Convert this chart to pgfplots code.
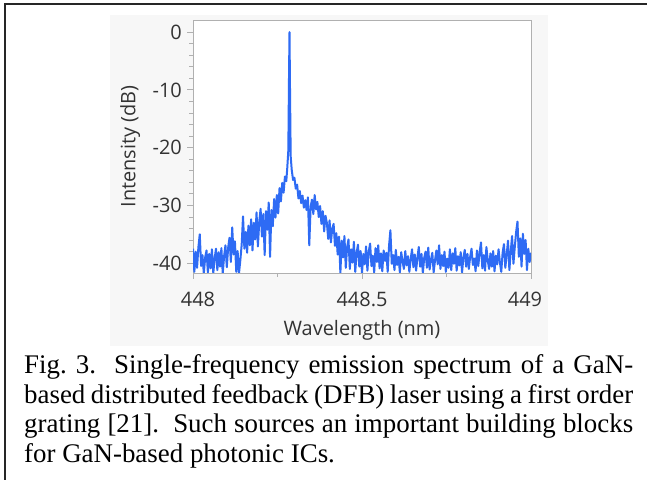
\documentclass[border=0pt]{standalone}
\usepackage{fontspec}
\setmainfont{Liberation Serif}
\newfontfamily\labelfont{Open Sans}
\usepackage{pgfplots}
\pgfplotsset{compat=1.18}
\definecolor{specblue}{HTML}{2E6BF4}
\definecolor{panelgray}{HTML}{F7F7F7}
\definecolor{labelgray}{HTML}{333333}
\definecolor{axisgray}{HTML}{B0B0B0}

\begin{document}
\begin{tikzpicture}[x=1bp,y=1bp]
\useasboundingbox (0,0) rectangle (647,480);
% frame and chart panel
\draw[line width=1.8bp, black!85] (5,0) -- (5,476) -- (647,476);
\fill[panelgray] (110,134) rectangle (548,465);

\begin{axis}[
  at={(193bp,207bp)}, anchor=south west,
  scale only axis,
  width=338bp, height=253bp,
  xmin=448, xmax=449, ymin=-41.7, ymax=2.1,
  xtick={448,448.5,449},
  xticklabels={\hspace*{10bp}448, 448.5, 449\hspace*{12bp}},
  minor xtick={448.25,448.75},
  ytick={-40,-30,-20,-10,0}, yticklabels={-40,-30,-20,-10,0},
  minor ytick={-38,-36,-34,-32,-28,-26,-24,-22,-18,-16,-14,-12,-8,-6,-4,-2},
  tick align=outside, tickpos=left,
  major tick length=6bp, minor tick length=4bp,
  axis line style={axisgray, line width=0.8bp},
  every tick/.style={axisgray, line width=0.8bp},
  every minor tick/.style={axisgray, line width=0.8bp},
  axis background/.style={fill=white},
  ticklabel style={font=\labelfont\fontsize{20}{24}\selectfont, text=labelgray},
  xticklabel style={anchor=north, inner sep=0pt, yshift=-13bp},
  yticklabel style={anchor=east, inner sep=0pt, xshift=-5bp},
  xlabel={Wavelength (nm)}, ylabel={Intensity (dB)},
  label style={font=\labelfont\fontsize{20}{24}\selectfont, text=labelgray},
  xlabel style={at={(axis description cs:0.5,-0.225)}, anchor=center},
  ylabel style={at={(axis description cs:-0.186,0.5)}, anchor=center},
]
\addplot[color=specblue, line width=2bp, line join=round] coordinates {
(448.000,-37.5) (448.004,-41.5) (448.008,-38.0) (448.012,-40.8) (448.016,-37.2)
(448.020,-35.0) (448.024,-40.5) (448.028,-38.6) (448.032,-41.8) (448.036,-39.0)
(448.040,-37.8) (448.044,-41.6) (448.048,-38.4) (448.052,-40.9) (448.056,-37.6)
(448.060,-41.7) (448.064,-39.2) (448.068,-37.5) (448.072,-41.2) (448.076,-38.1)
(448.080,-40.6) (448.084,-37.4) (448.088,-41.8) (448.092,-38.8) (448.096,-36.9)
(448.100,-40.7) (448.104,-37.3) (448.108,-35.6) (448.112,-39.8) (448.116,-33.8)
(448.120,-38.5) (448.124,-36.2) (448.128,-41.5) (448.132,-37.9) (448.136,-41.8)
(448.140,-39.5) (448.144,-36.8) (448.148,-31.9) (448.152,-37.5) (448.156,-34.6)
(448.160,-38.2) (448.164,-33.5) (448.168,-36.9) (448.172,-32.4) (448.176,-37.8)
(448.180,-33.0) (448.184,-35.9) (448.188,-31.2) (448.192,-37.1) (448.196,-32.8)
(448.200,-30.6) (448.204,-35.4) (448.208,-31.5) (448.212,-38.6) (448.216,-31.0)
(448.220,-34.2) (448.224,-29.5) (448.228,-38.9) (448.232,-30.8) (448.236,-33.6)
(448.240,-28.9) (448.244,-32.1) (448.248,-28.2) (448.252,-31.4) (448.256,-27.0)
(448.260,-29.3) (448.264,-26.1) (448.268,-27.8) (448.272,-25.0) (448.276,-25.8)
(448.279,-23.4) (448.282,-20.5) (448.284,-8.0) (448.2855,0.0) (448.287,-10.0)
(448.289,-21.5) (448.292,-23.8) (448.296,-25.6) (448.300,-25.2) (448.304,-27.1)
(448.308,-26.4) (448.312,-28.8) (448.316,-27.5) (448.320,-29.6) (448.324,-28.3)
(448.328,-30.4) (448.332,-29.1) (448.336,-30.8) (448.340,-28.6) (448.344,-36.9)
(448.348,-30.2) (448.352,-29.0) (448.356,-31.5) (448.360,-28.2) (448.364,-30.7)
(448.368,-29.4) (448.372,-32.0) (448.376,-30.1) (448.380,-33.2) (448.384,-31.0)
(448.388,-34.5) (448.392,-31.8) (448.396,-33.0) (448.400,-35.8) (448.404,-32.6)
(448.408,-36.4) (448.412,-34.0) (448.416,-33.2) (448.420,-37.0) (448.424,-34.8)
(448.428,-38.5) (448.432,-35.4) (448.436,-41.7) (448.440,-36.1) (448.444,-39.0)
(448.448,-35.3) (448.452,-40.8) (448.456,-37.2) (448.460,-35.9) (448.464,-41.0)
(448.468,-37.6) (448.472,-39.9) (448.476,-36.3) (448.480,-41.5) (448.484,-38.2)
(448.488,-36.8) (448.492,-40.6) (448.496,-37.9) (448.500,-41.7) (448.504,-38.4)
(448.508,-40.2) (448.512,-37.1) (448.516,-41.3) (448.520,-38.0) (448.524,-36.6)
(448.528,-40.5) (448.532,-38.7) (448.536,-41.6) (448.540,-37.4) (448.544,-39.8)
(448.548,-36.9) (448.552,-40.9) (448.556,-38.3) (448.560,-41.4) (448.564,-37.8)
(448.568,-39.6) (448.572,-38.2) (448.576,-41.5) (448.580,-37.0) (448.584,-34.3)
(448.588,-40.1) (448.592,-38.6) (448.596,-41.2) (448.600,-37.7) (448.604,-40.3)
(448.608,-38.9) (448.612,-41.6) (448.616,-38.1) (448.620,-39.7) (448.624,-41.0)
(448.628,-37.9) (448.632,-40.4) (448.636,-38.8) (448.640,-41.5) (448.644,-39.3)
(448.648,-37.6) (448.652,-40.7) (448.656,-38.5) (448.660,-41.3) (448.664,-39.0)
(448.668,-37.2) (448.672,-40.6) (448.676,-38.4) (448.680,-41.7) (448.684,-39.1)
(448.688,-38.0) (448.692,-40.8) (448.696,-37.3) (448.700,-41.1) (448.704,-39.4)
(448.708,-38.2) (448.712,-41.6) (448.716,-39.5) (448.720,-37.8) (448.724,-40.2)
(448.728,-36.9) (448.732,-41.0) (448.736,-38.6) (448.740,-40.5) (448.744,-38.0)
(448.748,-41.5) (448.752,-39.2) (448.756,-40.8) (448.760,-37.6) (448.764,-41.2)
(448.768,-38.3) (448.772,-40.1) (448.776,-37.4) (448.780,-41.3) (448.784,-38.8)
(448.788,-40.4) (448.792,-38.1) (448.796,-41.6) (448.800,-39.0) (448.804,-37.7)
(448.808,-40.6) (448.812,-38.4) (448.816,-41.0) (448.820,-38.9) (448.824,-37.5)
(448.828,-40.3) (448.832,-39.2) (448.836,-41.4) (448.840,-37.8) (448.844,-40.5)
(448.848,-38.1) (448.852,-36.4) (448.856,-40.9) (448.860,-38.6) (448.864,-41.3)
(448.868,-37.2) (448.872,-39.5) (448.876,-41.0) (448.880,-38.3) (448.884,-40.6)
(448.888,-37.9) (448.892,-41.4) (448.896,-38.7) (448.900,-40.2) (448.904,-37.6)
(448.908,-39.9) (448.912,-41.5) (448.916,-38.2) (448.920,-36.7) (448.924,-40.8)
(448.928,-38.5) (448.932,-36.1) (448.936,-41.2) (448.940,-38.0) (448.944,-35.3)
(448.948,-40.1) (448.952,-37.2) (448.956,-34.6) (448.960,-32.8) (448.964,-38.9)
(448.968,-35.7) (448.972,-40.6) (448.976,-34.9) (448.980,-38.4) (448.984,-36.0)
(448.988,-41.2) (448.992,-37.5) (448.996,-39.8) (449.000,-38.2)
};
\end{axis}

% caption
\begin{scope}[every node/.style={anchor=base west, inner sep=0pt, font=\fontsize{27}{30}\selectfont}]
\node at (24,106) {\makebox[609bp][s]{Fig.~3.\ \ Single-frequency emission spectrum of a GaN-}};
\node at (24,76) {\makebox[609bp][s]{based distributed feedback (DFB) laser using a first order}};
\node at (24,47) {\makebox[609bp][s]{grating [21].\ \ Such sources an important building blocks}};
\node at (24,17) {for GaN-based photonic ICs.};
\end{scope}
\end{tikzpicture}
\end{document}
